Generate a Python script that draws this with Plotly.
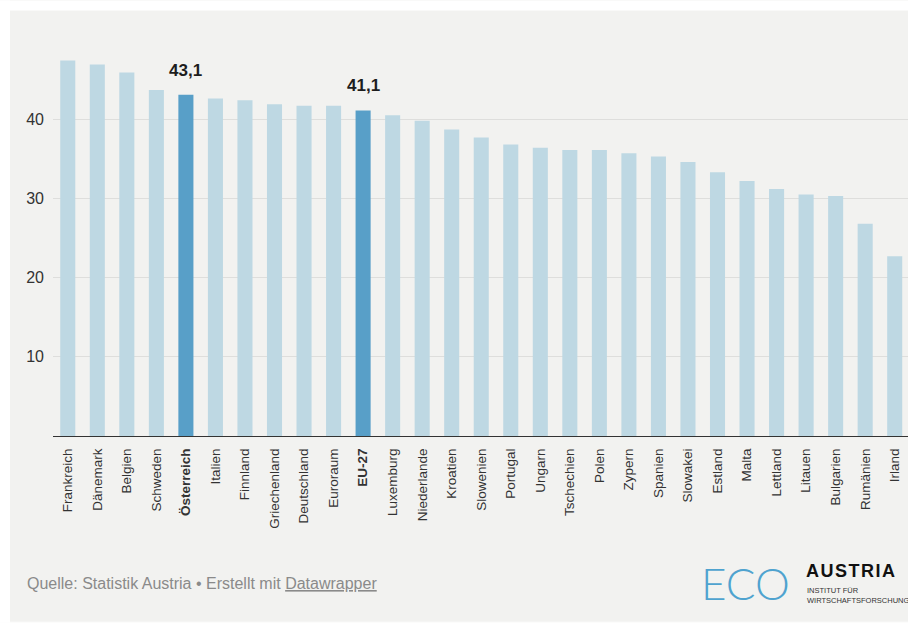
import plotly.graph_objects as go

countries = ["Frankreich", "Dänemark", "Belgien", "Schweden", "Österreich", "Italien",
             "Finnland", "Griechenland", "Deutschland", "Euroraum", "EU-27", "Luxemburg",
             "Niederlande", "Kroatien", "Slowenien", "Portugal", "Ungarn", "Tschechien",
             "Polen", "Zypern", "Spanien", "Slowakei", "Estland", "Malta", "Lettland",
             "Litauen", "Bulgarien", "Rumänien", "Irland"]
values = [47.4, 46.9, 45.9, 43.7, 43.1, 42.6, 42.4, 41.9, 41.7, 41.7, 41.1, 40.5,
          39.8, 38.7, 37.7, 36.8, 36.4, 36.1, 36.1, 35.7, 35.3, 34.6, 33.3, 32.2,
          31.2, 30.5, 30.3, 26.8, 22.7]
highlight = ["Österreich", "EU-27"]
y_ticks = [10, 20, 30, 40]

W, H = 908, 623
L, R, T, B = 53, 0, 39.5, 187

LIGHT = "#bed8e3"
DARK = "#589fc8"
BG = "#f2f2f0"

def px_x(px):
    return (px - L) / (W - L - R)

def px_y(py):
    return (H - B - py) / (H - T - B)

colors = [DARK if c in highlight else LIGHT for c in countries]
ticktext = [f"<b>{c}</b>" if c in highlight else c for c in countries]

fig = go.Figure()
fig.add_trace(go.Bar(
    x=countries, y=values,
    marker=dict(color=colors, line=dict(width=0)),
    width=0.51,
    hoverinfo="skip",
))

for c in highlight:
    v = values[countries.index(c)]
    fig.add_annotation(
        x=c, y=v, xref="x", yref="y",
        text=f"<b>{str(v).replace('.', ',')}</b>",
        showarrow=False, yanchor="bottom", yshift=13,
        font=dict(family="Liberation Sans, Arial, sans-serif", size=17, color="#1d1d1d"),
    )

# footer
fig.add_annotation(
    x=px_x(25), y=px_y(584), xref="paper", yref="paper",
    xanchor="left", yanchor="middle", showarrow=False,
    text="Quelle: Statistik Austria • Erstellt mit <u>Datawrapper</u>",
    font=dict(family="Liberation Sans, Arial, sans-serif", size=16, color="#8a8a8a"),
)
# logo
fig.add_annotation(
    x=px_x(699), y=px_y(583), xref="paper", yref="paper",
    xanchor="left", yanchor="middle", showarrow=False,
    text="ECO",
    font=dict(family="Lato, Roboto, sans-serif", size=44, color="#4fa3cf", weight=300),
)
fig.add_annotation(
    x=px_x(804), y=px_y(583), xref="paper", yref="paper",
    xanchor="left", yanchor="bottom", showarrow=False,
    text="<b>A U S T R I A</b>".replace(" ", "\u200a"),
    font=dict(family="Liberation Sans, Arial, sans-serif", size=18, color="#111111"),
)
fig.add_annotation(
    x=px_x(805), y=px_y(584), xref="paper", yref="paper",
    xanchor="left", yanchor="top", showarrow=False, align="left",
    text="INSTITUT FÜR<br>WIRTSCHAFTSFORSCHUNG",
    font=dict(family="Liberation Sans, Arial, sans-serif", size=7.5, color="#333333"),
)

# white outer margins (top/left/bottom)
for x0, x1, y0, y1 in [(0, 10, 0, H), (0, W, 0, 10), (0, W, H - 1, H)]:
    fig.add_shape(type="rect", xref="paper", yref="paper",
                  x0=px_x(x0), x1=px_x(x1), y0=px_y(y1), y1=px_y(y0),
                  fillcolor="white", line=dict(width=0), layer="above")

fig.update_layout(
    width=W, height=H,
    margin=dict(l=L, r=R, t=T, b=B),
    paper_bgcolor=BG, plot_bgcolor=BG,
    showlegend=False,
    font=dict(family="Liberation Sans, Arial, sans-serif", color="#333333"),
    xaxis=dict(
        type="category", range=[-0.5, 28.45],
        tickmode="array", tickvals=countries, ticktext=ticktext,
        tickangle=-90, tickfont=dict(size=13.5, color="#333333"),
        showgrid=False, showline=True, linecolor="#333333", linewidth=1.3,
        ticks="", ticklabelstandoff=6, fixedrange=True,
    ),
    yaxis=dict(
        range=[0, 50], tickmode="array", tickvals=y_ticks,
        ticktext=[str(t) for t in y_ticks],
        tickfont=dict(size=16, color="#333333"),
        showgrid=True, gridcolor="#dededc", gridwidth=1,
        zeroline=False, showline=False, ticks="", ticklabelstandoff=8,
        fixedrange=True,
    ),
)

fig.write_html("out.html")
